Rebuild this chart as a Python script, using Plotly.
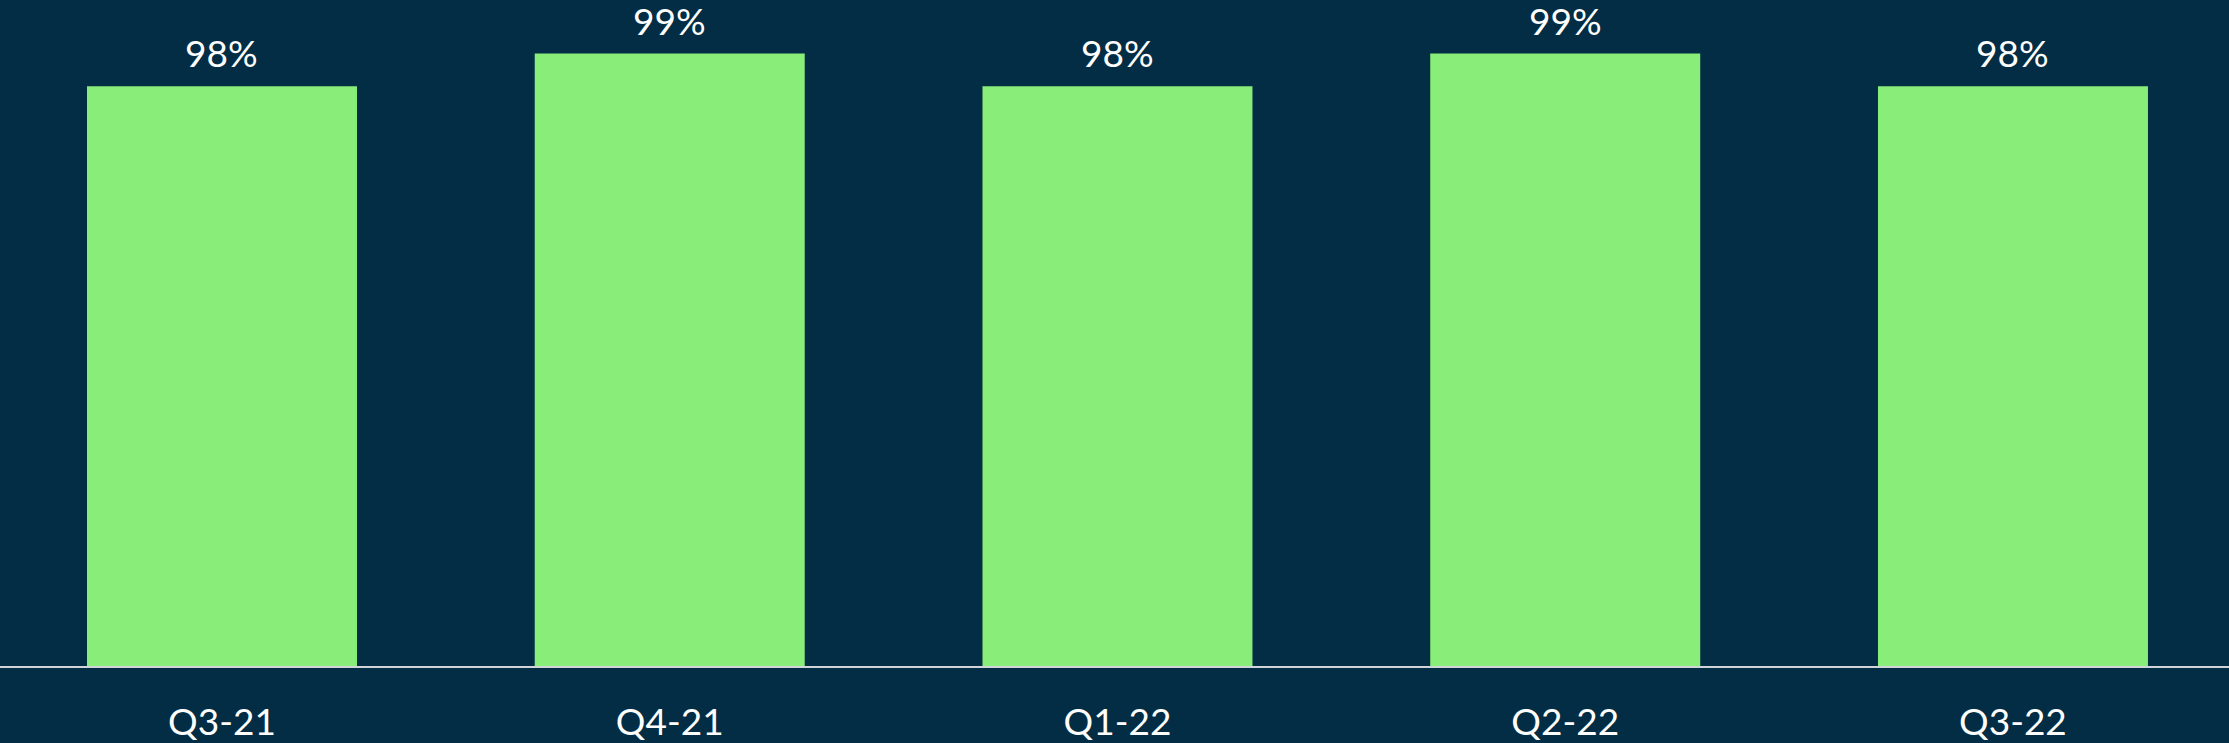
import plotly.graph_objects as go

categories = ["Q3-21", "Q4-21", "Q1-22", "Q2-22", "Q3-22"]
values = [98, 99, 98, 99, 98]
labels = ["98%", "99%", "98%", "99%", "98%"]

BG = "#022d44"
GREEN = "#88ee79"
FONT = "Century Gothic, Lato, sans-serif"

fig = go.Figure(
    go.Bar(
        x=categories,
        y=values,
        marker=dict(color=GREEN, line=dict(width=0)),
        hoverinfo="skip",
    )
)

for cat, val, lab in zip(categories, values, labels):
    fig.add_annotation(
        x=cat,
        y=val,
        text=lab,
        showarrow=False,
        yanchor="bottom",
        xanchor="center",
        yshift=10,
        borderpad=0,
        font=dict(color="white", size=37, family=FONT),
    )

fig.update_layout(
    width=2229,
    height=743,
    paper_bgcolor=BG,
    plot_bgcolor=BG,
    margin=dict(l=0, r=0, t=0, b=72),
    bargap=0.397,
    showlegend=False,
    font=dict(family=FONT, color="white"),
)
fig.update_xaxes(
    range=[-0.4958, 4.4825],
    showgrid=False,
    zeroline=False,
    showline=True,
    linecolor="#cfd4d8",
    linewidth=2,
    ticks="",
    tickfont=dict(color="white", size=37, family=FONT),
    ticklabelstandoff=23,
)
fig.update_yaxes(
    range=[80.303, 100.636],
    showgrid=False,
    zeroline=False,
    showticklabels=False,
    showline=False,
)

fig.write_html(
    "out.html",
    config={"displayModeBar": False},
    post_script="document.body.style.margin='0';document.body.style.overflow='hidden';document.body.style.background='%s';" % BG,
)
